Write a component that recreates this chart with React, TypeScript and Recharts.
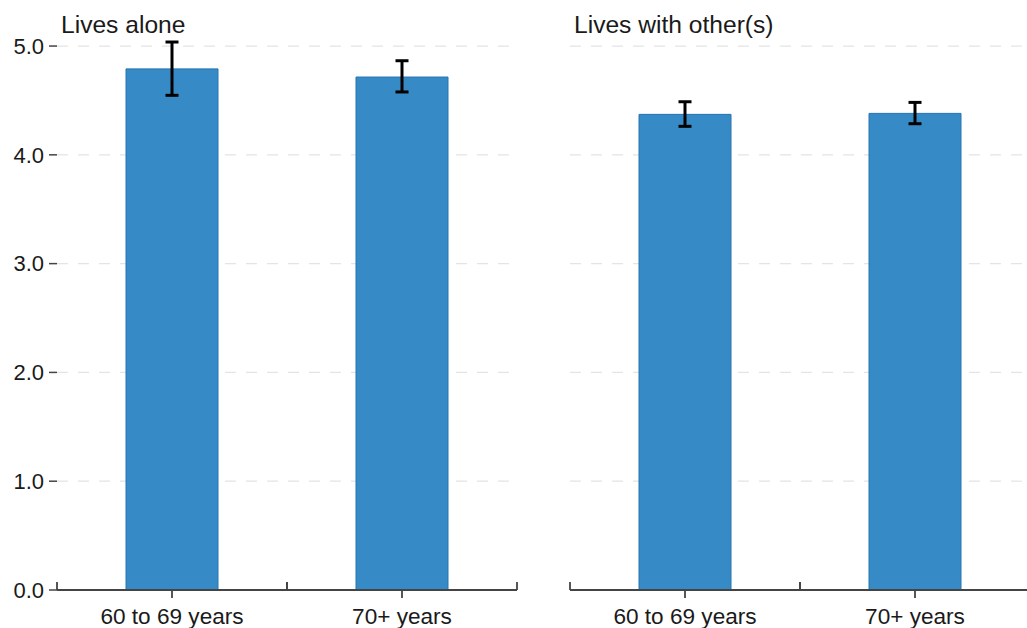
import React from 'react';
import { BarChart, Bar, XAxis, YAxis, CartesianGrid, ErrorBar } from 'recharts';

const categories = ['60 to 69 years', '70+ years'];
const panelTitles = ['Lives alone', 'Lives with other(s)'];
const livesAloneMean = [4.79, 4.715];
const livesAloneLower = [4.547, 4.578];
const livesAloneUpper = [5.037, 4.865];
const withOthersMean = [4.372, 4.381];
const withOthersLower = [4.262, 4.286];
const withOthersUpper = [4.488, 4.482];
const yTicks = [0, 1, 2, 3, 4, 5];
const gridValues = [1, 2, 3, 4, 5];

const buildRows = (mean: number[], lower: number[], upper: number[]) =>
  categories.map((c, i) => ({
    category: c,
    value: mean[i],
    err: [mean[i] - lower[i], upper[i] - mean[i]],
  }));

const aloneRows = buildRows(livesAloneMean, livesAloneLower, livesAloneUpper);
const othersRows = buildRows(withOthersMean, withOthersLower, withOthersUpper);

const FONT = '"Liberation Sans", Arial, Helvetica, sans-serif';
const AXIS = '#444444';
const BAR_FILL = '#368bc6';
const BAR_STROKE = '#2474b2';
const CHART_H = 628;
const MARGIN_TOP = 40.6;
const X_AXIS_H = 38;
const PLOT_W = 460;

const makeXTick = (band: number) => (props: any) => {
  const { x, y, payload } = props;
  return (
    <g>
      <line x1={x} x2={x} y1={y} y2={y + 8} stroke={AXIS} strokeWidth={1.8} />
      <line x1={x - band / 2} x2={x - band / 2} y1={y} y2={y - 8} stroke={AXIS} strokeWidth={1.8} />
      <line x1={x + band / 2} x2={x + band / 2} y1={y} y2={y - 8} stroke={AXIS} strokeWidth={1.8} />
      <text x={x} y={y + 34} textAnchor="middle" fontSize={22.6} fontFamily={FONT} fill="#1a1a1a">
        {payload.value}
      </text>
    </g>
  );
};

function Panel(props: { rows: any[]; width: number; marginLeft: number; marginRight: number; showY: boolean }) {
  const { rows, width, marginLeft, marginRight, showY } = props;
  const band = PLOT_W / categories.length;
  return (
    <BarChart
      width={width}
      height={CHART_H}
      data={rows}
      margin={{ top: MARGIN_TOP, right: marginRight, bottom: 0, left: marginLeft }}
      barCategoryGap="30%"
    >
      <CartesianGrid
        vertical={false}
        horizontalValues={gridValues}
        stroke="#e4e4e4"
        strokeDasharray="11 10"
        strokeWidth={1.2}
      />
      <XAxis
        dataKey="category"
        height={X_AXIS_H}
        tickSize={0}
        tickMargin={0}
        tickLine={false}
        axisLine={{ stroke: AXIS, strokeWidth: 1.8 }}
        tick={makeXTick(band)}
        interval={0}
      />
      <YAxis
        width={showY ? 57 : 0}
        domain={[0, 5.05]}
        ticks={yTicks}
        tickFormatter={(v: number) => (showY ? v.toFixed(1) : '')}
        axisLine={false}
        tickLine={showY ? { stroke: AXIS, strokeWidth: 1.5 } : false}
        tickSize={8}
        tickMargin={5}
        tick={{ fontSize: 22, fontFamily: FONT, fill: '#1a1a1a' }}
      />
      <Bar dataKey="value" fill={BAR_FILL} stroke={BAR_STROKE} strokeWidth={1} isAnimationActive={false}>
        <ErrorBar dataKey="err" width={6.5} strokeWidth={3} stroke="#000000" direction="y" />
      </Bar>
    </BarChart>
  );
}

export default function App() {
  return (
    <div
      style={{
        position: 'absolute',
        left: 0,
        top: 0,
        width: 1027,
        height: 628,
        overflow: 'hidden',
        background: '#ffffff',
        fontFamily: FONT,
      }}
    >
      <div style={{ position: 'absolute', left: 0, top: 0 }}>
        <Panel rows={aloneRows} width={520} marginLeft={0} marginRight={3} showY={true} />
      </div>
      <div style={{ position: 'absolute', left: 520, top: 0 }}>
        <Panel rows={othersRows} width={510} marginLeft={50} marginRight={0} showY={false} />
      </div>
      <svg
        width={1027}
        height={628}
        style={{ position: 'absolute', left: 0, top: 0, pointerEvents: 'none' }}
      >
        <text x={61} y={33} fontSize={24.6} fontFamily={FONT} fill="#1a1a1a">
          {panelTitles[0]}
        </text>
        <text x={574} y={33} fontSize={24.6} fontFamily={FONT} fill="#1a1a1a">
          {panelTitles[1]}
        </text>
      </svg>
    </div>
  );
}
